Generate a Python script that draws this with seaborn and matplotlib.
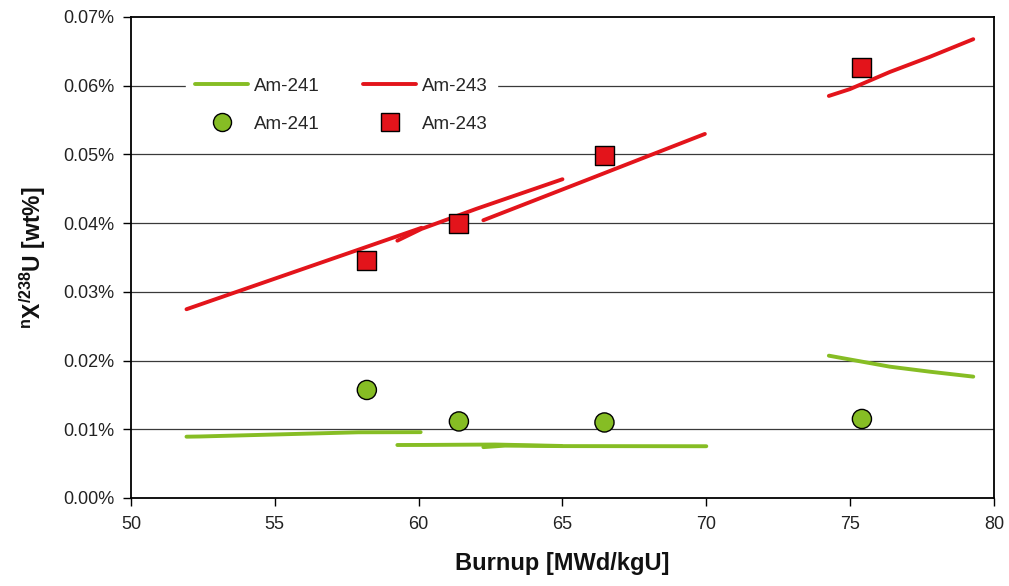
import matplotlib
matplotlib.use("Agg")
import matplotlib.pyplot as plt
import matplotlib.ticker as mticker
from matplotlib.lines import Line2D
import seaborn as sns
import pandas as pd

# ---- data (values in wt%) ----
# calculated curves, Am-243
r1_x = [51.93, 54.0, 56.0, 58.0, 60.1]
r1_y = [0.02747, 0.03047, 0.03337, 0.03627, 0.03932]
r2_x = [59.26, 60.1, 62.0, 65.0]
r2_y = [0.03745, 0.03916, 0.04207, 0.04639]
r3_x = [62.25, 64.0, 66.0, 68.0, 69.95]
r3_y = [0.04042, 0.04327, 0.04653, 0.04980, 0.05298]
r4_x = [74.26, 74.99, 76.38, 77.77, 79.28]
r4_y = [0.05851, 0.05950, 0.06200, 0.06420, 0.06677]
# calculated curves, Am-241
g1_x = [51.93, 52.4, 56.0, 57.9, 60.07]
g1_y = [0.00892, 0.00895, 0.00935, 0.00956, 0.00958]
g2_x = [59.26, 60.2, 62.65, 64.97]
g2_y = [0.00771, 0.00772, 0.00778, 0.00757]
g3_x = [62.25, 63.0, 65.0, 70.0]
g3_y = [0.00740, 0.00762, 0.00755, 0.00753]
g4_x = [74.26, 76.38, 77.77, 79.28]
g4_y = [0.02071, 0.01911, 0.01838, 0.01766]
# measured
meas_x = [58.2, 61.4, 66.46, 75.41]
meas_am241 = [0.01572, 0.01114, 0.01099, 0.0115]
meas_am243 = [0.0345, 0.0399, 0.04983, 0.06263]

x_ticks = [50, 55, 60, 65, 70, 75, 80]
y_ticks = [0.00, 0.01, 0.02, 0.03, 0.04, 0.05, 0.06, 0.07]

GREEN = "#86BD24"
RED = "#E3141B"

sns.set_theme(style="white")
plt.rcParams["font.family"] = ["Liberation Sans", "DejaVu Sans"]
plt.rcParams["mathtext.fontset"] = "custom"
plt.rcParams["mathtext.rm"] = "Liberation Sans"
plt.rcParams["mathtext.bf"] = "Liberation Sans:bold"

rows = []
for seg, (xs, ys, nuc) in enumerate([
    (g1_x, g1_y, "Am-241"), (g2_x, g2_y, "Am-241"), (g3_x, g3_y, "Am-241"), (g4_x, g4_y, "Am-241"),
    (r1_x, r1_y, "Am-243"), (r2_x, r2_y, "Am-243"), (r3_x, r3_y, "Am-243"), (r4_x, r4_y, "Am-243"),
]):
    for xv, yv in zip(xs, ys):
        rows.append({"burnup": xv, "value": yv, "nuclide": nuc, "seg": seg})
calc = pd.DataFrame(rows)
meas = pd.DataFrame({
    "burnup": meas_x * 2,
    "value": meas_am241 + meas_am243,
    "nuclide": ["Am-241"] * len(meas_x) + ["Am-243"] * len(meas_x),
})

fig = plt.figure(figsize=(10.09, 5.86), dpi=100)
ax = fig.add_axes([0.1298, 0.1502, 0.8553, 0.8208])

for yv in y_ticks[1:-1]:
    ax.axhline(yv, color="#3a3a3a", lw=0.9, zorder=0)

pal = {"Am-241": GREEN, "Am-243": RED}
sns.lineplot(data=calc, x="burnup", y="value", hue="nuclide", units="seg",
             estimator=None, sort=False, palette=pal, lw=2.8, legend=False, ax=ax, zorder=2)
sns.scatterplot(data=meas, x="burnup", y="value", hue="nuclide", style="nuclide",
                markers={"Am-241": "o", "Am-243": "s"}, palette=pal, s=190,
                edgecolor="black", linewidth=1.0, legend=False, ax=ax, zorder=3)

ax.set_xlim(50, 80)
ax.set_ylim(0, 0.07)
ax.set_xticks(x_ticks)
ax.set_yticks(y_ticks)
ax.yaxis.set_major_formatter(mticker.FuncFormatter(lambda v, p: f"{v:.2f}%"))
ax.tick_params(axis="both", which="major", direction="out", length=6, width=1.0,
               color="black", labelsize=13, labelcolor="#222222", bottom=True, left=True)
ax.tick_params(axis="x", pad=7)
ax.tick_params(axis="y", pad=6)
for s in ax.spines.values():
    s.set_color("black")
    s.set_linewidth(1.3)

ax.set_xlabel("Burnup [MWd/kgU]", fontsize=17, fontweight="bold", labelpad=14, color="#111111")
ax.set_ylabel(r"$\mathbf{^{n}}$X$\mathbf{^{/238}}$U [wt%]", fontsize=16.5, fontweight="bold",
              labelpad=11, color="#111111")

handles = [
    Line2D([0], [0], color=GREEN, lw=2.8),
    Line2D([0], [0], marker="o", color="none", markerfacecolor=GREEN, markeredgecolor="black",
           markersize=13),
    Line2D([0], [0], color=RED, lw=2.8),
    Line2D([0], [0], marker="s", color="none", markerfacecolor=RED, markeredgecolor="black",
           markersize=13),
]
labels = ["Am-241", "Am-241", "Am-243", "Am-243"]
leg = ax.legend(handles, labels, ncol=2, loc="upper left", bbox_to_anchor=(0.053, 0.913),
                fontsize=13.5, frameon=True, fancybox=False, framealpha=1.0, edgecolor="white",
                facecolor="white", handlelength=2.8, handletextpad=0.3, columnspacing=2.35,
                labelspacing=1.12, borderpad=0.5)
leg.set_zorder(4)

fig.savefig("out.png", dpi=100)
